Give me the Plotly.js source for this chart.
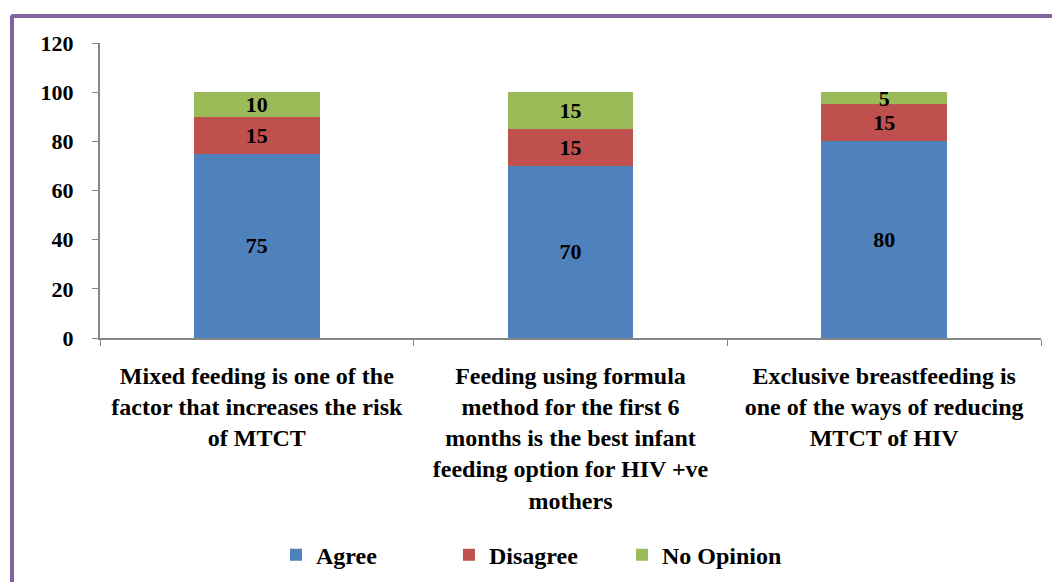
<!DOCTYPE html>
<html>
<head>
<meta charset="utf-8">
<script src="https://cdn.plot.ly/plotly-3.0.1.min.js"></script>
<style>
  html, body { margin: 0; padding: 0; background: #fff; }
  #wrap { position: relative; width: 1052px; height: 582px; overflow: hidden; }
  #plot { width: 1052px; height: 582px; }
  #frame {
    position: absolute; left: 10px; top: 14px; width: 1060px; height: 600px;
    border-top: 4px solid #8064A2; border-left: 4px solid #8064A2;
    border-top-left-radius: 4px; pointer-events: none;
  }
  #preload {
    position: absolute; left: 0; top: 0; color: #fff; font-size: 22px;
    font-family: 'Liberation Serif'; font-weight: bold; z-index: -1;
  }
</style>
</head>
<body>
<div id="wrap">
  <div id="preload">Mixed 0123456789</div>
  <div id="plot"></div>
  <div id="frame"></div>
</div>
<script>
// statements shown on the x axis
let statements = [
  "Mixed feeding is one of the<br>factor that increases the risk<br>of MTCT",
  "Feeding using formula<br>method for the first 6<br>months is the best infant<br>feeding option for HIV +ve<br>mothers",
  "Exclusive breastfeeding is<br>one of the ways of reducing<br>MTCT of HIV"
];

// percentages per answer
let agree = [75, 70, 80];
let disagree = [15, 15, 15];
let noOpinion = [10, 15, 5];

let yTicks = [0, 20, 40, 60, 80, 100, 120];

let serifFamily = 'Liberation Serif';

function boldFont(size) {
  return { family: serifFamily, size: size, color: '#000000', weight: 'bold' };
}

function barTrace(name, values, color) {
  return {
    x: statements,
    y: values,
    name: name,
    type: 'bar',
    marker: { color: color },
    text: values.map(String),
    textposition: 'inside',
    insidetextanchor: 'middle',
    textangle: 0,
    textfont: boldFont(22),
    hoverinfo: 'name+y'
  };
}

let data = [
  barTrace('Agree', agree, '#4F81BD'),
  barTrace('Disagree', disagree, '#C0504D'),
  barTrace('No Opinion', noOpinion, '#9BBB59')
];

let layout = {
  barmode: 'stack',
  bargap: 0.6,
  showlegend: true,
  font: boldFont(22),
  uniformtext: { minsize: 22, mode: 'show' },
  margin: { l: 100, r: 11, t: 43, b: 244, autoexpand: false },
  paper_bgcolor: 'rgba(0,0,0,0)',
  plot_bgcolor: 'rgba(0,0,0,0)',
  xaxis: {
    type: 'category',
    tickson: 'boundaries',
    ticks: 'outside',
    ticklen: 6,
    tickcolor: '#868686',
    showline: true,
    linecolor: '#868686',
    linewidth: 2,
    showgrid: false,
    tickangle: 0,
    automargin: false,
    ticklabelstandoff: 15,
    tickfont: boldFont(24)
  },
  yaxis: {
    range: [0, 120],
    tickvals: yTicks,
    ticktext: yTicks.map(String),
    ticks: 'outside',
    ticklen: 6,
    tickcolor: '#868686',
    showline: true,
    linecolor: '#868686',
    linewidth: 2,
    showgrid: false,
    zeroline: false,
    automargin: false,
    ticklabelstandoff: 14,
    tickfont: boldFont(22)
  },
  legend: {
    orientation: 'h',
    x: 0.187,
    xanchor: 'left',
    y: -0.736,
    yanchor: 'middle',
    entrywidth: 128,
    traceorder: 'normal',
    font: boldFont(24)
  }
};

function draw() {
  Plotly.newPlot('plot', data, layout, { displayModeBar: false });
}

if (document.fonts && document.fonts.load) {
  document.fonts.load('bold 22px "Liberation Serif"').then(draw, draw);
} else {
  draw();
}
</script>
</body>
</html>
